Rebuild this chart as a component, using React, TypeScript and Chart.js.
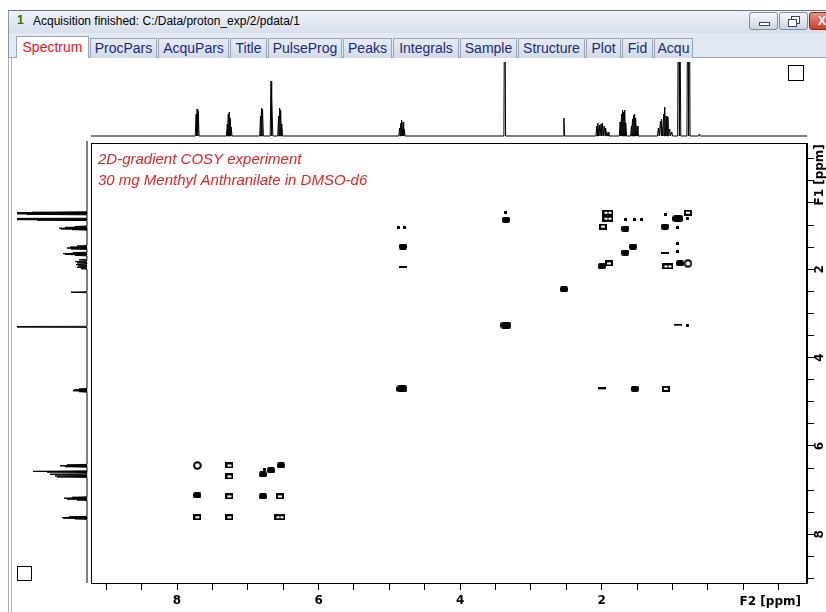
import React, { useEffect, useRef } from 'react';
import { Chart, registerables } from 'chart.js';

Chart.register(...registerables);

// ---------- axis data (ppm) ----------
const F2_MIN = -0.9;
const F2_MAX = 9.215;
const F1_MIN = -0.856;
const F1_MAX = 9.1;
const F2_LABELS = [8, 6, 4, 2];
const F1_LABELS = [2, 4, 6, 8];
const F2_TITLE = 'F2 [ppm]';
const F1_TITLE = 'F1 [ppm]';
const TITLE_LINES = ['2D-gradient COSY experiment', '30 mg Menthyl Anthranilate in DMSO-d6'];
const WINDOW_TITLE = 'Acquisition finished: C:/Data/proton_exp/2/pdata/1';
const TABS = ['Spectrum', 'ProcPars', 'AcquPars', 'Title', 'PulseProg', 'Peaks', 'Integrals', 'Sample', 'Structure', 'Plot', 'Fid', 'Acqu'];

// ---------- 1D projection along F2 (top): [ppm, intensity] ----------
const topPeaks = [
  [7.73, 22], [7.716, 27], [7.70, 25],
  [7.29, 12], [7.276, 22], [7.262, 24], [7.248, 18], [7.235, 9],
  [6.82, 20], [6.806, 28], [6.792, 27],
  [6.672, 55], [6.658, 38],
  [6.565, 20], [6.55, 28], [6.536, 26], [6.52, 12],
  [4.855, 8], [4.838, 13], [4.822, 16], [4.806, 14], [4.79, 7],
  [3.37, 200],
  [2.535, 18],
  [2.07, 10], [2.055, 13], [2.035, 11], [2.01, 12], [1.99, 13], [1.965, 10], [1.94, 8], [1.91, 4],
  [1.74, 14], [1.72, 22], [1.705, 26], [1.69, 24], [1.675, 26], [1.66, 13],
  [1.58, 10], [1.565, 17], [1.55, 21], [1.535, 22], [1.52, 18], [1.50, 10],
  [1.20, 8], [1.17, 15], [1.15, 17], [1.125, 22], [1.11, 29], [1.09, 20], [1.065, 19], [1.04, 7], [1.01, 4],
  [0.915, 200], [0.895, 200],
  [0.784, 200], [0.764, 200],
  [0.62, 2],
];

// ---------- 1D projection along F1 (left): [ppm, intensity] ----------
const leftPeaks = [
  [0.75, 55], [0.765, 200], [0.78, 200], [0.795, 60],
  [0.895, 200], [0.91, 200], [0.925, 50],
  [1.07, 12], [1.09, 22], [1.11, 28], [1.125, 26], [1.14, 15],
  [1.51, 10], [1.535, 17], [1.555, 20], [1.575, 16],
  [1.66, 14], [1.68, 24], [1.70, 22], [1.72, 12],
  [1.82, 8], [1.86, 12], [1.89, 10], [1.93, 11], [1.96, 9], [1.99, 10], [2.02, 6],
  [2.55, 16],
  [3.33, 200],
  [4.73, 8], [4.75, 13], [4.77, 14], [4.79, 8],
  [6.44, 20], [6.46, 27], [6.48, 22],
  [6.585, 54], [6.60, 40],
  [6.65, 37], [6.69, 32], [6.71, 30],
  [7.17, 15], [7.19, 23], [7.21, 20], [7.23, 10],
  [7.61, 18], [7.625, 25], [7.64, 24], [7.655, 12],
];

// ---------- 2D COSY cross / diagonal peaks: [F2 ppm, F1 ppm] ----------
const blobPeaks = [
  [6.785, 6.644], [6.672, 6.554], [6.531, 6.441], [7.713, 7.117], [6.785, 7.14],
  [4.808, 1.486], [3.353, 0.878], [2.534, 2.455], [1.531, 4.707],
  [1.107, 1.036], [1.667, 1.622], [1.559, 1.486], [1.997, 1.937], [0.895, 1.869], [1.667, 1.081],
];
const bigBlobPeaks = [[3.353, 3.266], [4.822, 4.707], [0.924, 0.856]];
const boxPeaks = [
  [7.26, 6.441], [7.26, 6.689], [7.26, 7.14], [6.545, 7.14], [7.713, 7.613], [7.26, 7.613],
  [1.983, 1.036], [0.782, 0.721], [1.093, 4.707], [1.898, 1.869],
];
const wideBoxPeaks = [[6.545, 7.613], [1.912, 0.721], [1.912, 0.856], [1.065, 1.937]];
const ringPeaks = [[7.713, 6.441], [0.782, 1.869]];
const dashPeaks = [[4.808, 1.959], [0.924, 3.266], [1.107, 1.644], [1.997, 4.707]];
const dotPeaks = [
  [4.864, 1.059], [4.78, 1.059], [3.353, 0.721], [0.782, 3.266], [1.667, 0.878], [1.531, 0.878],
  [1.432, 0.878], [1.093, 0.766], [0.924, 1.059], [0.924, 1.419], [0.924, 1.599], [0.782, 0.856],
  [6.757, 6.532],
];

// ---------- helpers ----------
const HALF = 0.012;
function trace(peaks: number[][], hi: number, lo: number) {
  const sorted = [...peaks].sort((a, b) => b[0] - a[0]);
  const out: { p: number; v: number }[] = [{ p: hi, v: 0 }];
  for (const [p, h] of sorted) {
    out.push({ p: p + HALF, v: 0 }, { p, v: h }, { p: p - HALF, v: 0 });
  }
  out.push({ p: lo, v: 0 });
  return out;
}

function shape(w: number, h: number, draw: (g: CanvasRenderingContext2D) => void) {
  const c = document.createElement('canvas');
  c.width = w;
  c.height = h;
  const g = c.getContext('2d')!;
  g.fillStyle = '#000';
  g.strokeStyle = '#000';
  draw(g);
  return c;
}

const baseOpts = {
  animation: false as const,
  responsive: false,
  maintainAspectRatio: false,
  events: [] as any[],
  plugins: { legend: { display: false }, tooltip: { enabled: false } },
};

export default function App() {
  const topRef = useRef<HTMLCanvasElement>(null);
  const leftRef = useRef<HTMLCanvasElement>(null);
  const mainRef = useRef<HTMLCanvasElement>(null);

  useEffect(() => {
    const charts: Chart[] = [];

    const topData = trace(topPeaks, F2_MAX, F2_MIN).map((d) => ({ x: d.p, y: d.v }));
    charts.push(
      new Chart(topRef.current!, {
        type: 'scatter',
        data: { datasets: [{ data: topData, showLine: true, borderColor: '#000', borderWidth: 1, pointRadius: 0 }] },
        options: {
          ...baseOpts,
          layout: { padding: 0 },
          scales: {
            x: { type: 'linear', display: false, min: F2_MIN, max: F2_MAX, reverse: true },
            y: { type: 'linear', display: false, min: -1, max: 74 },
          },
        } as any,
      })
    );

    const leftData = trace(leftPeaks, F1_MAX, F1_MIN).map((d) => ({ x: d.v, y: d.p }));
    charts.push(
      new Chart(leftRef.current!, {
        type: 'scatter',
        data: { datasets: [{ data: leftData, showLine: true, borderColor: '#000', borderWidth: 1, pointRadius: 0 }] },
        options: {
          ...baseOpts,
          layout: { padding: 0 },
          scales: {
            x: { type: 'linear', display: false, min: -1, max: 70, reverse: true },
            y: { type: 'linear', display: false, min: F1_MIN, max: F1_MAX, reverse: true },
          },
        } as any,
      })
    );

    const blob = shape(8, 6, (g) => { g.beginPath(); (g as any).roundRect(0, 0, 8, 6, 2); g.fill(); });
    const bigBlob = shape(11, 7, (g) => { g.beginPath(); (g as any).roundRect(0, 0, 11, 7, 3); g.fill(); });
    const box = shape(8, 6, (g) => { g.fillRect(0, 0, 8, 6); g.clearRect(2, 2, 4, 2); });
    const wideBox = shape(11, 6, (g) => { g.fillRect(0, 0, 11, 6); g.clearRect(2, 2, 3, 2); g.clearRect(6, 2, 3, 2); });
    const ring = shape(9, 9, (g) => { g.lineWidth = 2; g.beginPath(); g.arc(4.5, 4.5, 3.3, 0, Math.PI * 2); g.stroke(); });
    const dash = shape(8, 3, (g) => { g.fillRect(0, 0, 8, 2); });
    const dot = shape(3, 3, (g) => { g.fillRect(0, 0, 3, 3); });

    const ds = (arr: number[][], img: HTMLCanvasElement) => ({
      data: arr.map(([x, y]) => ({ x, y })),
      pointStyle: img,
      pointRadius: 4,
      showLine: false,
    });

    const decor = {
      id: 'decor',
      afterDraw(chart: any) {
        const { ctx, chartArea: a, scales } = chart;
        ctx.save();
        ctx.strokeStyle = '#000';
        ctx.lineWidth = 1;
        ctx.strokeRect(a.left + 0.5, a.top + 0.5, a.right - a.left - 1, a.bottom - a.top);
        // title lines
        ctx.fillStyle = '#f02020';
        ctx.font = 'italic 15px "Liberation Sans", Arial, sans-serif';
        ctx.textAlign = 'left';
        ctx.textBaseline = 'alphabetic';
        TITLE_LINES.forEach((t, i) => ctx.fillText(t, a.left + 7, a.top + 21 + i * 21));
        // F2 title
        ctx.fillStyle = '#000';
        ctx.font = 'bold 12px "DejaVu Sans", sans-serif';
        ctx.textAlign = 'right';
        ctx.textBaseline = 'middle';
        ctx.fillText(F2_TITLE, a.right - 6, a.bottom + 19);
        // F1 labels rotated
        const ys = scales.y;
        const xLab = a.right + 13;
        const drawRot = (txt: string, yy: number) => {
          ctx.save();
          ctx.translate(xLab, yy);
          ctx.rotate(-Math.PI / 2);
          ctx.textAlign = 'center';
          ctx.textBaseline = 'middle';
          ctx.fillText(txt, 0, 0);
          ctx.restore();
        };
        F1_LABELS.forEach((v) => drawRot(String(v), ys.getPixelForValue(v)));
        drawRot(F1_TITLE, ys.getPixelForValue(0) - 6);
        ctx.restore();
      },
    };

    charts.push(
      new Chart(mainRef.current!, {
        type: 'scatter',
        data: {
          datasets: [
            ds(blobPeaks, blob),
            ds(bigBlobPeaks, bigBlob),
            ds(boxPeaks, box),
            ds(wideBoxPeaks, wideBox),
            ds(ringPeaks, ring),
            ds(dashPeaks, dash),
            ds(dotPeaks, dot),
          ],
        },
        options: {
          ...baseOpts,
          layout: { padding: { left: 11, top: 3, right: 0, bottom: 0 } },
          scales: {
            x: {
              type: 'linear',
              position: 'bottom',
              min: F2_MIN,
              max: F2_MAX,
              reverse: true,
              grid: { display: true, drawOnChartArea: false, drawTicks: true, tickLength: 7, color: '#000', lineWidth: 1 },
              border: { display: true, color: '#000' },
              ticks: {
                stepSize: 0.5,
                includeBounds: false,
                autoSkip: false,
                maxRotation: 0,
                minRotation: 0,
                padding: 4,
                color: '#000',
                font: { family: '"DejaVu Sans", sans-serif', weight: 'bold', size: 12 },
                callback: (v: any) => (F2_LABELS.includes(Number(v)) ? String(v) : ''),
              },
              afterFit: (s: any) => { s.height = 29; },
            },
            y: {
              type: 'linear',
              position: 'right',
              min: F1_MIN,
              max: F1_MAX,
              reverse: true,
              grid: { display: true, drawOnChartArea: false, drawTicks: true, tickLength: 7, color: '#000', lineWidth: 1 },
              border: { display: true, color: '#000' },
              ticks: { stepSize: 0.5, includeBounds: false, display: false },
              afterFit: (s: any) => { s.width = 19; },
            },
          },
        } as any,
        plugins: [decor],
      })
    );

    return () => charts.forEach((c) => c.destroy());
  }, []);

  const tabWidths = [74, 68, 72, 38, 75, 50, 67, 58, 68, 36, 32, 40];

  return (
    <div style={{ position: 'fixed', left: 0, top: 0, width: 826, height: 612, background: '#fff', overflow: 'hidden', fontFamily: '"Liberation Sans", Arial, sans-serif' }}>
      {/* window frame */}
      <div style={{ position: 'absolute', left: 8, top: 10, width: 830, height: 610, borderTop: '1px solid #6b7280', borderLeft: '1px solid #8a94a6', background: '#e3e9f2' }} />
      {/* title bar */}
      <div style={{ position: 'absolute', left: 9, top: 11, width: 830, height: 22, background: 'linear-gradient(#edf2f9, #d6dfec)' }} />
      <div style={{ position: 'absolute', left: 17, top: 13, fontSize: 12, fontWeight: 'bold', color: '#2c7a00', textShadow: '1px 0 #e8f060' }}>1</div>
      <div style={{ position: 'absolute', left: 33, top: 14, fontSize: 12, color: '#000', whiteSpace: 'nowrap' }}>{WINDOW_TITLE}</div>
      {/* window buttons */}
      <div style={{ position: 'absolute', left: 749, top: 12, width: 27, height: 16, border: '1px solid #7d8ba3', borderRadius: 3, background: 'linear-gradient(#f6f8fb, #cdd6e4)' }}>
        <div style={{ position: 'absolute', left: 9, top: 9, width: 9, height: 2, border: '1px solid #3a4660', background: '#fff' }} />
      </div>
      <div style={{ position: 'absolute', left: 779, top: 12, width: 27, height: 16, border: '1px solid #7d8ba3', borderRadius: 3, background: 'linear-gradient(#f6f8fb, #cdd6e4)' }}>
        <div style={{ position: 'absolute', left: 11, top: 3, width: 7, height: 6, border: '1px solid #3a4660', background: '#fff' }} />
        <div style={{ position: 'absolute', left: 8, top: 6, width: 7, height: 6, border: '1px solid #3a4660', background: '#fff' }} />
      </div>
      <div style={{ position: 'absolute', left: 809, top: 12, width: 30, height: 16, border: '1px solid #7a2a20', borderRadius: 3, background: 'linear-gradient(#e8917f, #c8402a)', color: '#fff', fontWeight: 'bold', fontSize: 12, lineHeight: '16px', paddingLeft: 8 }}>X</div>
      {/* tabs */}
      <div style={{ position: 'absolute', left: 9, top: 57, width: 830, height: 1, background: '#9aa5b8' }} />
      <div style={{ position: 'absolute', left: 16, top: 36, display: 'flex', alignItems: 'flex-end' }}>
        {TABS.map((t, i) => (
          <div
            key={t}
            style={{
              width: tabWidths[i] - 1,
              marginRight: 1,
              height: i === 0 ? 23 : 21,
              marginTop: i === 0 ? 0 : 2,
              boxSizing: 'border-box',
              border: '1px solid #9aa5b8',
              borderBottom: i === 0 ? 'none' : '1px solid #9aa5b8',
              background: i === 0 ? '#fff' : 'linear-gradient(#e6ebf3, #d3dbe8)',
              color: i === 0 ? '#ff1010' : '#1b2a78',
              fontSize: 14,
              textAlign: 'center',
              lineHeight: i === 0 ? '20px' : '19px',
              whiteSpace: 'nowrap',
              overflow: 'visible',
            }}
          >
            {t}
          </div>
        ))}
      </div>
      {/* content area */}
      <div style={{ position: 'absolute', left: 9, top: 58, width: 830, height: 560, background: '#fff' }} />
      <div style={{ position: 'absolute', left: 8, top: 58, width: 2, height: 560, borderLeft: '1px solid #a8b0bd', borderRight: '1px solid #a8b0bd' }} />
      {/* small boxes */}
      <div style={{ position: 'absolute', left: 788, top: 65, width: 14, height: 14, border: '1px solid #000' }} />
      <div style={{ position: 'absolute', left: 17, top: 566, width: 13, height: 13, border: '1px solid #000' }} />
      {/* charts */}
      <canvas ref={topRef} width={716} height={75} style={{ position: 'absolute', left: 91, top: 62 }} />
      <canvas ref={leftRef} width={71} height={442} style={{ position: 'absolute', left: 17, top: 141 }} />
      <canvas ref={mainRef} width={746} height={474} style={{ position: 'absolute', left: 80, top: 138 }} />
    </div>
  );
}
